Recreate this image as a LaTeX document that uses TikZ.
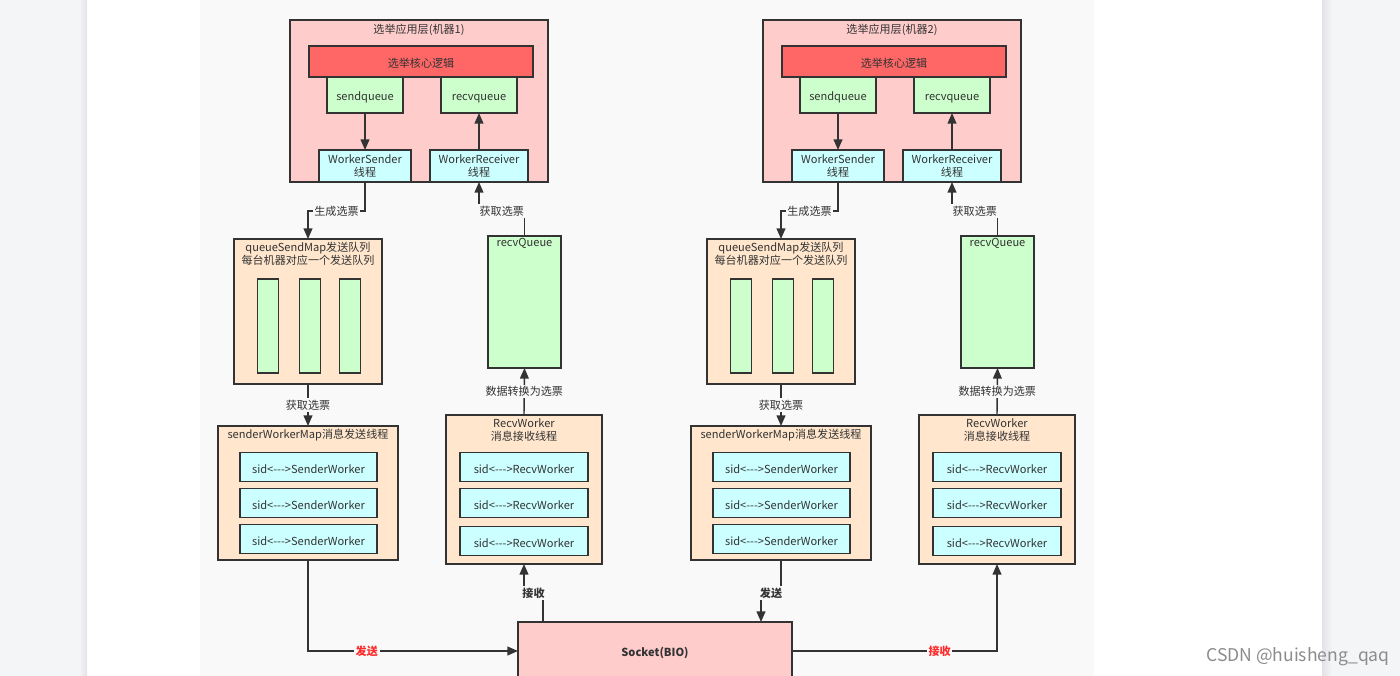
\documentclass[tikz,border=0pt]{standalone}
\usepackage{fontspec}
\setmainfont{Noto Sans CJK SC}
\usepackage{xcolor}
\usepackage{tikz}
\usetikzlibrary{arrows.meta,calc}
\definecolor{appred}{HTML}{FFCCCC}
\definecolor{corered}{HTML}{FF6666}
\definecolor{qgreen}{HTML}{CCFFCC}
\definecolor{wcyan}{HTML}{CCFFFF}
\definecolor{mappeach}{HTML}{FFE6CC}
\definecolor{ink}{HTML}{333333}
\definecolor{canvas}{HTML}{F9F9F9}
\definecolor{pagegrey}{HTML}{F4F5F7}
\definecolor{shade}{HTML}{E2E3E6}
\definecolor{sendred}{HTML}{FF2A2A}
\definecolor{mark}{HTML}{8C8C8C}
\newcommand{\dgfont}{\fontsize{6.3}{7.4}\selectfont}
\newcommand{\sidlink}{sid<{-}{-}{-}>}

\begin{document}
\begin{tikzpicture}[x=0.02cm,y=-0.02cm,
    box/.style={draw=ink,line width=0.8pt,inner sep=0pt,outer sep=0pt,
      font=\dgfont,text=ink,align=center,
      execute at begin node={\rule{0pt}{7.2pt}}},
    wh/.style 2 args={minimum width=#1*0.02cm,minimum height=#2*0.02cm},
    txt/.style={inner sep=0pt,font=\dgfont,text=ink,align=center},
    flow/.style={draw=ink,line width=0.8pt,-{Triangle[length=6pt,width=5pt]}},
    tag/.style={fill=canvas,inner sep=1pt,font=\dgfont,text=ink},
    redtag/.style={tag,font=\dgfont\bfseries,text=sendred}]
    \useasboundingbox (0,0) rectangle (1400,676);
    \clip (0,0) rectangle (1400,676);
    % page
    \fill[pagegrey] (0,0) rectangle (1400,676);
    \fill[white] (87,0) rectangle (1322,676);
    \shade[left color=pagegrey,right color=shade] (79,0) rectangle (87,676);
    \shade[left color=shade,right color=pagegrey] (1322,0) rectangle (1332,676);
    \fill[canvas] (200,0) rectangle (1094,676);

    \foreach \m/\dx in {1/0,2/473} {
      \begin{scope}[xshift=\dx*0.02cm]
        % election layer
        \node[box,fill=appred,wh={258}{162}] (app\m) at (419,101) {};
        \node[txt] (apptitle\m) at (419,29.5) {选举应用层(机器\m)};
        \node[box,fill=corered,wh={224}{31}] (core\m) at (421,61.5) {选举核心逻辑};
        \node[box,fill=qgreen,wh={76}{36}] (sendq\m) at (365,95) {sendqueue};
        \node[box,fill=qgreen,wh={76}{36}] (recvq\m) at (479,95) {recvqueue};
        \node[box,fill=wcyan,wh={92}{32}] (wsend\m) at (365,166) {WorkerSender\\线程};
        \node[box,fill=wcyan,wh={98}{32}] (wrecv\m) at (479,166) {WorkerReceiver\\线程};
        \draw[flow] (sendq\m) -- (sendq\m |- wsend\m.north);
        \draw[flow] (wrecv\m) -- (wrecv\m |- recvq\m.south);

        % queues
        \node[box,fill=mappeach,wh={148}{145}] (qmap\m) at (308,311.5) {};
        \node[txt] (qmaptitle\m) at (308,254) {queueSendMap发送队列\\每台机器对应一个发送队列};
        \foreach \i/\bx in {1/268,2/310,3/350}
          \node[box,fill=qgreen,wh={21}{94}] (bar\m-\i) at (\bx,326) {};
        \node[box,fill=qgreen,wh={73}{132}] (rq\m) at (524.5,302) {};
        \node[txt] (rqtitle\m) at (524.5,243.5) {recvQueue};
        \draw[flow] (wsend\m.south) -- ++(0,29) -| node[tag,pos=0.25] {生成选票} (qmap\m.north);
        \draw[flow] (rq\m.north) -- ++(0,-25) -| node[tag,pos=0.25] {获取选票} (wrecv\m.south);

        % worker threads
        \node[box,fill=mappeach,wh={180}{134}] (swmap\m) at (308,493) {};
        \node[txt] (swtitle\m) at (308,435.5) {senderWorkerMap消息发送线程};
        \foreach \i/\ry in {1/467,2/503,3/539}
          \node[box,fill=wcyan,wh={137}{29}] (sw\m-\i) at (308.5,\ry) {\sidlink SenderWorker};
        \node[box,fill=mappeach,wh={156}{149}] (rw\m) at (524,489.5) {};
        \node[txt] (rwtitle\m) at (524,430) {RecvWorker\\消息接收线程};
        \foreach \i/\ry in {1/467,2/503,3/541}
          \node[box,fill=wcyan,wh={128}{29}] (rwrow\m-\i) at (524,\ry) {\sidlink RecvWorker};
        \draw[flow] (qmap\m.south) -- node[tag] {获取选票} (swmap\m.north);
        \draw[flow] (rw\m.north) -- node[tag] {数据转换为选票} (rq\m.south);
      \end{scope}
    }

    % socket
    \node[box,fill=appred,wh={274}{58},font=\dgfont\bfseries] (sock) at (655,651) {Socket(BIO)};
    \draw[flow] (swmap1.south) |- node[redtag,pos=0.64] {发送} (sock.west);
    \draw[flow] ($(sock.north west)+(25,0)$) -- ++(0,-29) -| node[tag,font=\dgfont\bfseries,pos=0.25] {接收} (rw1.south);
    \draw[flow] (swmap2.south) -- ++(0,33) -| node[tag,font=\dgfont\bfseries,pos=0.25] {发送} ($(sock.north east)+(-31,0)$);
    \draw[flow] (sock.east) -| node[redtag,pos=0.36] {接收} (rw2.south);

    % watermark
    \node[inner sep=0pt,font=\fontsize{10}{12}\selectfont,text=mark] (wmark) at (1298,657) {CSDN @huisheng\_qaq};
\end{tikzpicture}
\end{document}
